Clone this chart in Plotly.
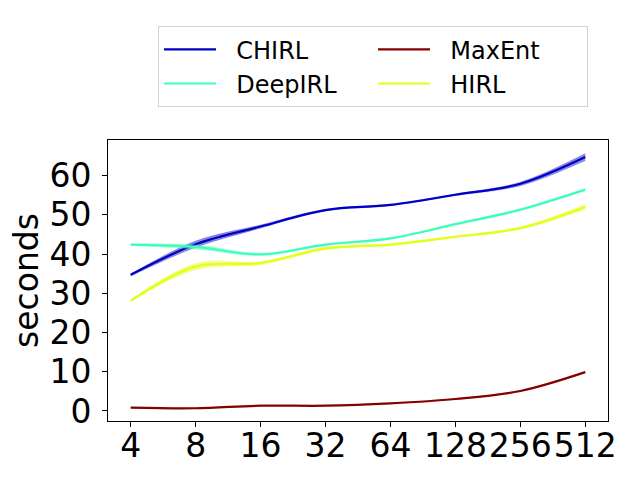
import plotly.graph_objects as go

categories = ["4", "8", "16", "32", "64", "128", "256", "512"]

chirl_mean = [34.7, 42.5, 47.0, 51.2, 52.5, 55.1, 57.9, 64.7]
chirl_low = [34.4, 41.7, 46.6, 51.0, 52.3, 54.9, 57.4, 63.8]
chirl_high = [34.9, 43.3, 47.4, 51.4, 52.7, 55.3, 58.3, 65.6]

deep_mean = [42.4, 41.8, 39.9, 42.4, 44.0, 47.6, 51.3, 56.4]
deep_low = [42.2, 41.3, 39.6, 42.2, 43.8, 47.4, 51.1, 56.2]
deep_high = [42.6, 42.3, 40.2, 42.6, 44.2, 47.8, 51.5, 56.6]

hirl_mean = [28.1, 36.8, 37.7, 41.4, 42.4, 44.4, 46.6, 52.0]
hirl_low = [27.9, 36.0, 37.3, 41.1, 42.2, 44.2, 46.3, 51.4]
hirl_high = [28.3, 37.6, 38.1, 41.7, 42.6, 44.6, 46.9, 52.6]

maxent_mean = [0.85, 0.7, 1.35, 1.35, 1.95, 3.05, 5.1, 9.9]
maxent_low = [0.8, 0.65, 1.3, 1.3, 1.9, 3.0, 5.0, 9.8]
maxent_high = [0.9, 0.75, 1.4, 1.4, 2.0, 3.1, 5.2, 10.0]

series = [
    ("CHIRL", chirl_mean, chirl_low, chirl_high, "#0000c4", "rgba(0,0,196,0.45)"),
    ("MaxEnt", maxent_mean, maxent_low, maxent_high, "#850000", "rgba(133,0,0,0.45)"),
    ("DeepIRL", deep_mean, deep_low, deep_high, "#3dffba", "rgba(61,255,186,0.45)"),
    ("HIRL", hirl_mean, hirl_low, hirl_high, "#e3ff14", "rgba(227,255,20,0.45)"),
]

xs = list(range(len(categories)))
fig = go.Figure()
for name, mean, low, high, col, fillcol in series:
    fig.add_trace(go.Scatter(x=xs, y=low, mode="lines", line=dict(width=0.5, color=fillcol, shape="spline"),
                             showlegend=False, hoverinfo="skip"))
    fig.add_trace(go.Scatter(x=xs, y=high, mode="lines", line=dict(width=0.5, color=fillcol, shape="spline"),
                             fill="tonexty", fillcolor=fillcol, showlegend=False, hoverinfo="skip"))
    fig.add_trace(go.Scatter(x=xs, y=mean, mode="lines", name="\u00a0\u00a0" + name,
                             line=dict(width=2.2, color=col, shape="spline")))

font_family = "DejaVu Sans"
fig.update_layout(
    width=640, height=480,
    margin=dict(l=108, r=32, t=140, b=59, autoexpand=False),
    paper_bgcolor="white", plot_bgcolor="white",
    font=dict(family=font_family, color="black"),
    legend=dict(
        orientation="h", x=0.1, xanchor="left", y=1.405, yanchor="top",
        entrywidth=147, entrywidthmode="pixels",
        font=dict(size=24, family=font_family, color="black"),
        bordercolor="#d0d0d0", borderwidth=1, bgcolor="white",
        itemwidth=52, traceorder="normal",
    ),
    xaxis=dict(
        range=[-0.35, 7.35], tickmode="array", tickvals=xs, ticktext=categories,
        ticks="outside", ticklen=5, tickcolor="black", tickwidth=1, tickangle=0,
        ticklabelstandoff=-10,
        showline=True, linecolor="black", linewidth=1, mirror=True, automargin=False,
        showgrid=False, zeroline=False, tickfont=dict(size=33, family=font_family),
    ),
    yaxis=dict(
        range=[-2.55, 69.05], tickmode="array", tickvals=[0, 10, 20, 30, 40, 50, 60],
        ticks="outside", ticklen=5, tickcolor="black", tickwidth=1, automargin=False,
        ticklabelstandoff=4,
        showline=True, linecolor="black", linewidth=1, mirror=True,
        showgrid=False, zeroline=False, tickfont=dict(size=33, family=font_family),
        title=dict(text="seconds", font=dict(size=33, family=font_family), standoff=0),
    ),
)

fig.write_html("out.html", config={"displayModeBar": False})
with open("out.html", "r", encoding="utf-8") as f:
    html = f.read()
html = html.replace("<head>", "<head><style>html,body{margin:0;padding:0;overflow:hidden;}</style>", 1)
with open("out.html", "w", encoding="utf-8") as f:
    f.write(html)
